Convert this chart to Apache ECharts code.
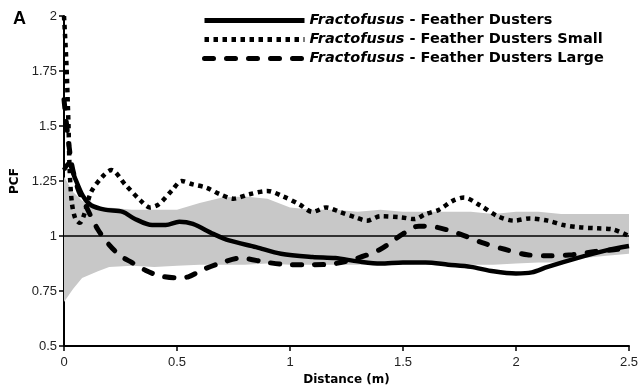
<!DOCTYPE html>
<html>
<head>
<meta charset="utf-8">
<script src="https://cdn.jsdelivr.net/npm/echarts@6/dist/echarts.min.js"></script>
<style>
  html, body { margin: 0; padding: 0; background: #fff; }
  #chart { width: 643px; height: 391px; }
</style>
</head>
<body>
<div id="chart"></div>
<script>
// --- data ---
var seriesNames = [
  'Fractofusus - Feather Dusters',
  'Fractofusus - Feather Dusters Small',
  'Fractofusus - Feather Dusters Large'
];

var allX = [0, 0.02, 0.05, 0.085, 0.12, 0.18, 0.26, 0.31, 0.39, 0.45, 0.51, 0.57, 0.66, 0.73, 0.85, 0.96,
            1.1, 1.2, 1.3, 1.4, 1.5, 1.6, 1.7, 1.8, 1.9, 2.0, 2.07, 2.14, 2.27, 2.4, 2.5];
var allY = [1.30, 1.33, 1.26, 1.18, 1.14, 1.12, 1.11, 1.08, 1.05, 1.05, 1.065, 1.055, 1.01, 0.98, 0.95, 0.92,
            0.905, 0.9, 0.885, 0.875, 0.88, 0.88, 0.87, 0.86, 0.84, 0.83, 0.835, 0.86, 0.9, 0.935, 0.955];

var smallX = [0, 0.01, 0.02, 0.025, 0.035, 0.05, 0.07, 0.09, 0.12, 0.17, 0.21, 0.27, 0.34, 0.38, 0.42, 0.48,
              0.52, 0.57, 0.63, 0.69, 0.75, 0.82, 0.9, 0.97, 1.04, 1.1, 1.16, 1.22, 1.29, 1.34, 1.4, 1.49,
              1.55, 1.6, 1.66, 1.72, 1.77, 1.84, 1.92, 1.99, 2.06, 2.14, 2.21, 2.28, 2.36, 2.43, 2.5];
var smallY = [2.0, 1.8, 1.5, 1.3, 1.15, 1.08, 1.06, 1.1, 1.2, 1.27, 1.3, 1.235, 1.16, 1.13, 1.145, 1.21,
              1.25, 1.235, 1.22, 1.19, 1.17, 1.19, 1.205, 1.18, 1.145, 1.11, 1.13, 1.11, 1.085, 1.07, 1.09, 1.085,
              1.077, 1.1, 1.12, 1.16, 1.175, 1.14, 1.09, 1.07, 1.08, 1.07, 1.05, 1.04, 1.035, 1.03, 1.0];

var largeX = [0, 0.03, 0.06, 0.1, 0.15, 0.2, 0.25, 0.3, 0.36, 0.42, 0.5, 0.55, 0.62, 0.7, 0.78, 0.9,
              1.0, 1.1, 1.2, 1.3, 1.4, 1.5, 1.57, 1.65, 1.75, 1.85, 1.95, 2.05, 2.15, 2.25, 2.35, 2.45, 2.5];
var largeY = [1.62, 1.35, 1.22, 1.13, 1.03, 0.96, 0.91, 0.88, 0.845, 0.82, 0.81, 0.815, 0.85, 0.88, 0.9, 0.88,
              0.87, 0.87, 0.875, 0.9, 0.94, 1.01, 1.045, 1.04, 1.01, 0.97, 0.94, 0.915, 0.91, 0.915, 0.93, 0.94, 0.95];

// simulation envelope (grey band)
var bandX = [0, 0.04, 0.08, 0.15, 0.2, 0.3, 0.4, 0.5, 0.6, 0.7, 0.8, 0.9, 1.0, 1.1, 1.2, 1.3, 1.4,
             1.5, 1.6, 1.7, 1.8, 1.9, 2.0, 2.1, 2.2, 2.3, 2.4, 2.5];
var bandLow = [0.70, 0.76, 0.81, 0.84, 0.86, 0.865, 0.86, 0.865, 0.87, 0.87, 0.87, 0.875, 0.87, 0.87, 0.87, 0.87, 0.875,
               0.87, 0.875, 0.87, 0.87, 0.87, 0.875, 0.88, 0.88, 0.9, 0.91, 0.92];
var bandHigh = [1.27, 1.2, 1.16, 1.13, 1.13, 1.12, 1.12, 1.12, 1.15, 1.175, 1.18, 1.17, 1.13, 1.12, 1.12, 1.11, 1.12,
                1.11, 1.11, 1.11, 1.11, 1.1, 1.11, 1.11, 1.1, 1.1, 1.1, 1.1];

var xTicks = { min: 0, max: 2.5, interval: 0.5 };
var yTicks = { min: 0.5, max: 2, interval: 0.25 };

function pairs(xs, ys) {
  return xs.map(function(x, i) { return [x, ys[i]]; });
}

var ink = '#000';
var labelColor = '#222';
var bandColor = '#c8c8c8';

var chart = echarts.init(document.getElementById('chart'), null, { renderer: 'canvas' });
chart.setOption({
  animation: false,
  title: {
    text: 'A', left: 8, top: 5,
    textStyle: { fontFamily: 'Liberation Sans', fontWeight: 'bold', fontSize: 18, color: ink }
  },
  legend: {
    data: seriesNames,
    orient: 'vertical',
    left: 197, top: 8,
    itemWidth: 100, itemHeight: 17, itemGap: 4,
    itemStyle: { opacity: 0 },
    lineStyle: { width: 5 },
    formatter: function(name) {
      var parts = name.split(' - ');
      return '{i|' + parts[0] + '}{b| - ' + parts[1] + '}';
    },
    textStyle: {
      rich: {
        i: { fontFamily: 'DejaVu Sans', fontStyle: 'italic', fontWeight: 'bold', fontSize: 14.5, color: ink },
        b: { fontFamily: 'DejaVu Sans', fontWeight: 'bold', fontSize: 14.5, color: ink }
      }
    }
  },
  grid: { left: 64, right: 14, top: 16, bottom: 43 },
  xAxis: {
    type: 'value',
    min: xTicks.min, max: xTicks.max, interval: xTicks.interval,
    name: 'Distance (m)', nameLocation: 'middle', nameGap: 22,
    nameTextStyle: { fontFamily: 'DejaVu Sans', fontWeight: 'bold', fontSize: 12, color: ink },
    axisLine: { onZero: false, lineStyle: { color: ink, width: 2 } },
    axisTick: { length: 5, lineStyle: { color: ink, width: 1.5 } },
    axisLabel: { margin: 10, fontFamily: 'Liberation Sans', fontSize: 13, color: labelColor },
    splitLine: { show: false }
  },
  yAxis: {
    type: 'value',
    min: yTicks.min, max: yTicks.max, interval: yTicks.interval,
    name: 'PCF', nameLocation: 'middle', nameGap: 41, nameRotate: 90,
    nameTextStyle: { fontFamily: 'DejaVu Sans', fontWeight: 'bold', fontSize: 12, color: ink },
    axisLine: { show: true, lineStyle: { color: ink, width: 2 } },
    axisTick: { show: true, length: 5, lineStyle: { color: ink, width: 1.5 } },
    axisLabel: { margin: 7, fontFamily: 'Liberation Sans', fontSize: 13, color: labelColor },
    splitLine: { show: false }
  },
  series: [
    {
      // envelope polygon: upper edge left->right, lower edge right->left
      name: 'envelope', type: 'custom', silent: true, z: 1,
      data: bandX.map(function(x, i) { return [x, bandLow[i], bandHigh[i]]; }),
      renderItem: function(params, api) {
        if (params.dataIndex !== 0) return null;
        var pts = [];
        for (var i = 0; i < bandX.length; i++) pts.push(api.coord([bandX[i], bandHigh[i]]));
        for (var j = bandX.length - 1; j >= 0; j--) pts.push(api.coord([bandX[j], bandLow[j]]));
        return {
          type: 'polygon',
          shape: { points: pts },
          style: { fill: bandColor, stroke: null }
        };
      }
    },
    {
      name: seriesNames[0], type: 'line', symbol: 'none', smooth: 0.3, z: 3,
      lineStyle: { color: ink, width: 4.5 },
      itemStyle: { color: ink },
      data: pairs(allX, allY),
      markLine: {
        silent: true, symbol: 'none', label: { show: false }, z: 2,
        lineStyle: { color: ink, type: 'solid', width: 1.5 },
        data: [{ yAxis: 1 }]
      }
    },
    {
      name: seriesNames[1], type: 'line', symbol: 'none', smooth: 0.3, z: 3,
      lineStyle: { color: ink, width: 4.5, type: [4.5, 4.5] },
      itemStyle: { color: ink },
      data: pairs(smallX, smallY)
    },
    {
      name: seriesNames[2], type: 'line', symbol: 'none', smooth: 0.3, z: 3,
      lineStyle: { color: ink, width: 5, type: [9, 13], cap: 'round' },
      itemStyle: { color: ink },
      data: pairs(largeX, largeY)
    }
  ]
});
</script>
</body>
</html>
